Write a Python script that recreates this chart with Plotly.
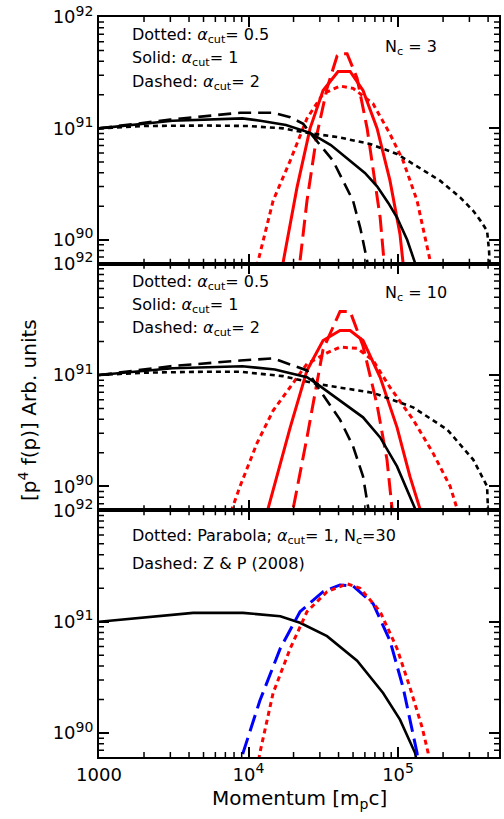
import plotly.graph_objects as go

# ---------------- data ----------------
# Top panel, N_c = 3
top_blk_dot_p = [1000, 2000, 5000, 10000, 17000, 24600, 40000, 65000, 98400, 130000, 191000, 260000, 318000, 360000, 394000, 406000, 410000]
top_blk_dot_f = [1.0e91, 1.05e91, 1.06e91, 1.05e91, 1.0e91, 9.12e90, 8.32e90, 7.24e90, 5.89e90, 4.68e90, 3.39e90, 2.40e90, 1.82e90, 1.45e90, 1.20e90, 7.94e89, 6.03e89]
top_blk_sol_p = [1000, 3100, 9100, 12000, 17800, 25800, 35500, 47800, 60000, 72400, 86000, 98400, 115000, 130000, 140000]
top_blk_sol_f = [1.0e91, 1.17e91, 1.23e91, 1.17e91, 1.07e91, 9.12e90, 7.08e90, 5.13e90, 3.98e90, 3.02e90, 2.14e90, 1.58e90, 1.0e90, 6.17e89, 4.47e89]
top_blk_dsh_p = [1000, 3000, 8800, 14600, 19000, 23200, 25800, 36700, 50000, 56000, 62100, 66000]
top_blk_dsh_f = [1.0e91, 1.20e91, 1.38e91, 1.38e91, 1.26e91, 1.10e91, 9.12e90, 5.13e90, 2.24e90, 1.26e90, 6.46e89, 3.98e89]
top_red_dsh_p = [21200, 22100, 24600, 28700, 33500, 39100, 40900, 45600, 53200, 62100, 68100, 75900, 80500, 83200]
top_red_dsh_f = [3.98e89, 6.46e89, 2.24e90, 8.91e90, 2.29e91, 4.47e91, 4.68e91, 4.68e91, 2.82e91, 1.0e91, 4.47e90, 1.58e90, 6.46e89, 3.98e89]
top_red_sol_p = [16000, 17000, 21100, 25800, 31500, 39700, 47800, 58300, 72400, 88300, 103000, 108000, 111000]
top_red_sol_f = [3.98e89, 6.17e89, 2.95e90, 1.0e91, 2.19e91, 3.24e91, 3.24e91, 2.19e91, 1.0e91, 3.39e90, 1.12e90, 6.17e89, 3.98e89]
top_red_dot_p = [10700, 11600, 14600, 19000, 24600, 31500, 40900, 50000, 68100, 88300, 108000, 134000, 164000, 172000]
top_red_dot_f = [3.98e89, 6.46e89, 2.24e90, 5.13e90, 1.23e91, 2.04e91, 2.40e91, 2.29e91, 1.66e91, 8.91e90, 5.13e90, 2.24e90, 6.46e89, 3.98e89]

# Middle panel, N_c = 10
mid_blk_dot_p = [1000, 2000, 5000, 8800, 17000, 28700, 68100, 126000, 213000, 318000, 394000, 400000, 404000]
mid_blk_dot_f = [1.0e91, 1.05e91, 1.07e91, 1.07e91, 9.77e90, 8.32e90, 6.92e90, 5.13e90, 3.24e90, 1.74e90, 1.0e90, 6.31e89, 3.98e89]
mid_blk_sol_p = [1000, 3100, 9100, 15000, 24600, 28700, 40900, 58300, 75900, 98400, 130000, 140000]
mid_blk_sol_f = [1.0e91, 1.15e91, 1.20e91, 1.12e91, 9.55e90, 8.32e90, 5.89e90, 4.17e90, 2.75e90, 1.51e90, 6.31e89, 3.98e89]
mid_blk_dsh_p = [1000, 3000, 8800, 14600, 24600, 30100, 40900, 50000, 58300, 63100, 67000]
mid_blk_dsh_f = [1.0e91, 1.20e91, 1.35e91, 1.41e91, 1.10e91, 7.24e90, 3.98e90, 2.29e90, 1.23e90, 6.31e89, 3.98e89]
mid_red_dsh_p = [18600, 19900, 24600, 31500, 40900, 47800, 58300, 72400, 84300, 91200, 94000]
mid_red_dsh_f = [3.98e89, 6.31e89, 2.75e90, 1.70e91, 3.72e91, 3.72e91, 1.82e91, 5.37e90, 1.74e90, 6.31e89, 3.98e89]
mid_red_sol_p = [12300, 13500, 19000, 24600, 31500, 40900, 47800, 58300, 75900, 98400, 120000, 140000, 156000]
mid_red_sol_f = [3.98e89, 6.31e89, 3.39e90, 1.10e91, 2.04e91, 2.51e91, 2.51e91, 2.04e91, 9.55e90, 3.39e90, 1.23e90, 6.31e89, 3.98e89]
mid_red_dot_p = [7080, 7760, 8770, 11400, 14600, 19000, 24600, 33500, 40900, 53200, 68100, 88300, 126000, 171000, 223000, 248000, 275000]
mid_red_dot_f = [4.17e89, 6.31e89, 1.0e90, 2.45e90, 4.79e90, 7.76e90, 1.26e91, 1.58e91, 1.78e91, 1.74e91, 1.35e91, 7.76e90, 3.98e90, 2.0e90, 1.0e90, 6.31e89, 3.98e89]

# Bottom panel, alpha_cut = 1, N_c = 30
bot_blk_sol_p = [1000, 4260, 9180, 16300, 22100, 33500, 53200, 79400, 103000, 130000, 140000]
bot_blk_sol_f = [1.0e91, 1.20e91, 1.20e91, 1.12e91, 9.77e90, 7.41e90, 4.47e90, 2.29e90, 1.32e90, 6.61e89, 3.98e89]
bot_blu_dsh_p = [8510, 9180, 11900, 16300, 22100, 31500, 40900, 50000, 68100, 88300, 108000, 126000, 134000, 138000]
bot_blu_dsh_f = [3.98e89, 6.61e89, 1.95e90, 5.75e90, 1.23e91, 1.86e91, 2.14e91, 2.09e91, 1.45e91, 6.76e90, 2.57e90, 1.0e90, 6.61e89, 3.98e89]
bot_red_dot_p = [11200, 11900, 14600, 19000, 24600, 33500, 45600, 55700, 75900, 98400, 120000, 145000, 159000, 168000]
bot_red_dot_f = [3.98e89, 6.61e89, 2.29e90, 5.75e90, 1.23e91, 1.86e91, 2.19e91, 2.0e91, 1.23e91, 5.75e90, 2.57e90, 1.12e90, 6.61e89, 3.98e89]

SUP = "<sup><span style='font-size:14px'>%s</span></sup>"
x_major_vals = [1000, 10000, 100000]
x_major_text = ["1000", "10" + SUP % "4", "10" + SUP % "5"]
x_minor_vals = [2000, 3000, 4000, 5000, 6000, 7000, 8000, 9000,
                20000, 30000, 40000, 50000, 60000, 70000, 80000, 90000,
                200000, 300000, 400000]
y_major_vals = [1e90, 1e91, 1e92]
y_major_text = ["10" + SUP % "90", "10" + SUP % "91", "10" + SUP % "92"]
y_minor_vals = [7e89, 8e89, 9e89,
                2e90, 3e90, 4e90, 5e90, 6e90, 7e90, 8e90, 9e90,
                2e91, 3e91, 4e91, 5e91, 6e91, 7e91, 8e91, 9e91]

# ---------------- figure ----------------
FONT = "DejaVu Sans"
W, H = 504, 819
ML, MR, MT, MB = 99, 5, 17, 62
PW, PH = W - ML - MR, H - MT - MB
XR = [3, 5.675]
YR = [89.785, 92.0]
PANEL_H = PH / 3.0

def px(xp, yp):
    return (xp - ML) / PW, (H - MB - yp) / PH

DASH = "13px,7px"
RDASH = "17px,7px"
DOT = "5px,4px"

fig = go.Figure()

def add(p, f, color, dash, width, ax):
    fig.add_trace(go.Scatter(x=p, y=f, mode="lines",
                             line=dict(color=color, dash=dash, width=width),
                             xaxis="x" + ax, yaxis="y" + ax,
                             showlegend=False, hoverinfo="skip"))

add(top_red_dot_p, top_red_dot_f, "#ff0000", DOT, 3, "")
add(top_red_sol_p, top_red_sol_f, "#ff0000", "solid", 3, "")
add(top_red_dsh_p, top_red_dsh_f, "#ff0000", RDASH, 3, "")
add(top_blk_dot_p, top_blk_dot_f, "black", DOT, 2.6, "")
add(top_blk_sol_p, top_blk_sol_f, "black", "solid", 2.6, "")
add(top_blk_dsh_p, top_blk_dsh_f, "black", DASH, 2.6, "")

add(mid_red_dot_p, mid_red_dot_f, "#ff0000", DOT, 3, "2")
add(mid_red_sol_p, mid_red_sol_f, "#ff0000", "solid", 3, "2")
add(mid_red_dsh_p, mid_red_dsh_f, "#ff0000", RDASH, 3, "2")
add(mid_blk_dot_p, mid_blk_dot_f, "black", DOT, 2.6, "2")
add(mid_blk_sol_p, mid_blk_sol_f, "black", "solid", 2.6, "2")
add(mid_blk_dsh_p, mid_blk_dsh_f, "black", DASH, 2.6, "2")

add(bot_blk_sol_p, bot_blk_sol_f, "black", "solid", 2.6, "3")
add(bot_blu_dsh_p, bot_blu_dsh_f, "#0000ff", RDASH, 3, "3")
add(bot_red_dot_p, bot_red_dot_f, "#ff0000", DOT, 3, "3")

# minor tick marks (5 px, inside, all four sides), placed at the minor tick
# values through each panel's own log axes
MINOR_PX = 5.0
dy = MINOR_PX / PANEL_H * (YR[1] - YR[0])
dx = MINOR_PX / PW * (XR[1] - XR[0])
y_lo, y_lo2 = 10 ** YR[0], 10 ** (YR[0] + dy)
y_hi, y_hi2 = 10 ** YR[1], 10 ** (YR[1] - dy)
x_lo, x_lo2 = 10 ** XR[0], 10 ** (XR[0] + dx)
x_hi, x_hi2 = 10 ** XR[1], 10 ** (XR[1] - dx)
for ax in ["", "2", "3"]:
    tx, ty = [], []
    for v in x_minor_vals:
        tx += [v, v, None, v, v, None]
        ty += [y_lo, y_lo2, None, y_hi, y_hi2, None]
    for v in y_minor_vals:
        tx += [x_lo, x_lo2, None, x_hi, x_hi2, None]
        ty += [v, v, None, v, v, None]
    fig.add_trace(go.Scatter(x=tx, y=ty, mode="lines", line=dict(color="black", width=1.5),
                             xaxis="x" + ax, yaxis="y" + ax, connectgaps=False,
                             showlegend=False, hoverinfo="skip"))

tickfont = dict(family=FONT, size=18, color="black")

def axis_common(rng, vals, text, labels):
    return dict(type="log", range=rng, automargin=False,
                showline=True, linecolor="black", linewidth=2, mirror="allticks",
                ticks="inside", ticklen=10, tickwidth=1.5, tickcolor="black",
                tickmode="array", tickvals=vals, ticktext=text,
                showticklabels=labels, tickfont=tickfont,
                showgrid=False, zeroline=False, fixedrange=True)

lay = dict(
    width=W, height=H,
    margin=dict(l=ML, r=MR, t=MT, b=MB, pad=0, autoexpand=False),
    paper_bgcolor="white", plot_bgcolor="white",
    font=dict(family=FONT, size=16, color="black"),
)
domains = {"": [2/3, 1], "2": [1/3, 2/3], "3": [0, 1/3]}
for k, dom in domains.items():
    lay["xaxis" + k] = dict(axis_common(XR, x_major_vals, x_major_text, k == "3"),
                            anchor="y" + k)
    lay["yaxis" + k] = dict(axis_common(YR, y_major_vals, y_major_text, True),
                            anchor="x" + k, domain=dom)
fig.update_layout(**lay)

ann = []
def text(s, xp, yp, size=16, xanchor="left", yanchor="middle", angle=0):
    x, y = px(xp, yp)
    ann.append(dict(text=s, x=x, y=y, xref="paper", yref="paper", showarrow=False,
                    xanchor=xanchor, yanchor=yanchor, textangle=angle,
                    font=dict(family=FONT, size=size, color="black")))

A = "<i>α</i><sub>cut</sub>"
for off, nc in [(0, "3"), (246, "10")]:
    text("Dotted: " + A + "= 0.5", 130, 36 + off)
    text("Solid: " + A + "= 1", 130, 59 + off)
    text("Dashed: " + A + "= 2", 130, 82 + off)
    text("N<sub>c</sub> = " + nc, 383, 47 + off)
text("Dotted: Parabola; " + A + "= 1, N<sub>c</sub>=30", 130, 536)
text("Dashed: Z &amp; P (2008)", 130, 563)
text("Momentum [m<sub>p</sub>c]", 299, 799, size=20, xanchor="center")
text("[p<sup>4</sup> f(p)] Arb. units", 28, 410, size=20, xanchor="center", angle=-90)
fig.update_layout(annotations=ann)

fig.write_html("out.html", config={"displayModeBar": False},
               post_script="document.body.style.margin='0';document.body.style.overflow='hidden';")
